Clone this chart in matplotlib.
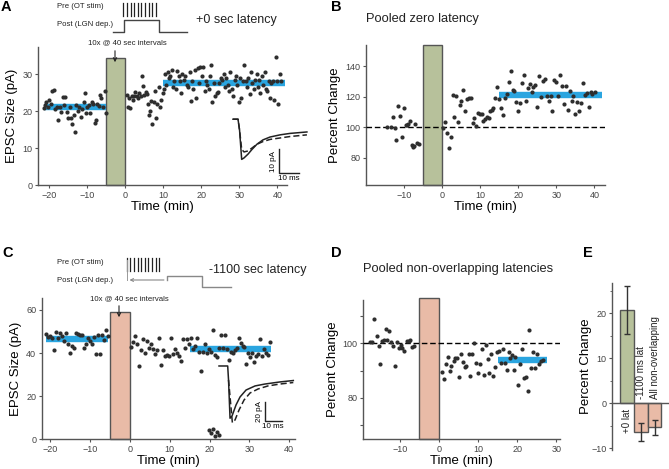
import numpy as np
import matplotlib
matplotlib.use("Agg")
import matplotlib.pyplot as plt

plt.rcParams['font.family'] = ['Liberation Sans', 'DejaVu Sans']

# ---- data ----
# A: EPSC size, +0 latency
a_pre_t = [-21.5, -21.2, -20.8, -20.5, -20.0, -19.6, -19.2, -18.8, -18.5, -18.1, -17.7, -17.3, -16.9,
           -16.5, -16.1, -15.8, -15.4, -15.0, -14.7, -14.3, -14.0, -13.6, -13.2, -12.9, -12.5, -12.1,
           -11.8, -11.4, -11.0, -10.7, -10.3, -10.0, -9.6, -9.2, -8.9, -8.5, -8.1, -7.8, -7.4, -7.0,
           -6.7, -6.3, -5.9, -5.5, -5.2]
a_pre_y = [20.8, 21.5, 22.3, 21.0, 23.0, 22.0, 25.3, 25.6, 20.5, 21.2, 17.5, 21.2, 19.8,
           23.8, 21.5, 23.9, 19.8, 18.2, 21.0, 18.0, 16.5, 19.0, 14.2, 21.5, 20.0, 21.2,
           18.4, 20.5, 22.5, 24.8, 19.5, 21.0, 21.6, 19.5, 22.5, 22.0, 16.8, 17.5, 21.9, 21.3,
           24.3, 23.6, 21.0, 25.5, 19.5]
a_post_t = [0.3, 0.6, 1.0, 1.3, 1.6, 2.0, 2.3, 2.6, 3.0, 3.3, 3.6, 4.0, 4.3, 4.6, 5.0, 5.3, 5.6, 6.0,
            6.2, 6.5, 6.8, 7.1, 7.5, 7.8, 8.1, 8.4, 8.8, 9.1, 9.4, 9.8, 10.1, 10.4, 10.8, 11.1, 11.5,
            11.8, 12.2, 12.5, 12.9, 13.2, 13.6, 14.0, 14.3, 14.7, 15.0, 15.4, 15.7, 16.1, 16.5, 16.9,
            17.2, 17.6, 17.9, 18.3, 18.6, 19.0, 19.3, 19.7, 20.1, 20.4, 20.8, 21.1, 21.5, 21.9, 22.2,
            22.6, 22.9, 23.3, 23.6, 24.0, 24.4, 24.7, 25.1, 25.4, 25.8, 26.1, 26.5, 26.9, 27.2, 27.6,
            28.0, 28.3, 28.7, 29.0, 29.4, 29.8, 30.1, 30.5, 30.9, 31.2, 31.6, 31.9, 32.3, 32.7, 33.0,
            33.4, 33.7, 34.1, 34.5, 34.8, 35.2, 35.5, 35.9, 36.3, 36.6, 37.0, 37.3, 37.7, 38.1, 38.4,
            38.8, 39.1, 39.5, 39.9, 40.2, 40.6, 41.0]
a_post_y = [24.2, 21.0, 23.5, 20.7, 24.0, 23.0, 24.0, 25.2, 24.0, 23.5, 25.0, 24.0, 29.5, 26.8, 24.2,
            25.1, 24.6, 22.0, 19.0, 20.0, 22.8, 16.5, 22.5, 25.5, 18.0, 22.0, 26.5, 21.0, 23.0, 25.0,
            26.0, 30.0, 27.0, 30.5, 29.0, 29.5, 31.0, 26.5, 28.0, 26.0, 30.8, 29.5, 28.0, 25.0, 30.0,
            28.5, 29.5, 27.0, 26.5, 30.5, 22.8, 28.0, 26.0, 31.0, 23.5, 31.5, 27.5, 32.0, 29.5, 32.0,
            25.5, 28.0, 27.0, 26.0, 29.5, 32.3, 22.5, 27.5, 24.0, 25.0, 25.2, 27.5, 29.0, 28.5, 30.0,
            26.5, 29.0, 27.0, 25.5, 30.5, 26.0, 24.0, 28.5, 29.5, 27.0, 22.5, 29.0, 23.5, 28.0, 32.5,
            28.0, 26.5, 29.0, 24.5, 30.5, 27.5, 26.0, 28.5, 30.0, 26.5, 28.5, 25.0, 29.5, 27.0, 30.5,
            26.0, 25.5, 28.0, 23.5, 27.5, 28.0, 23.0, 34.5, 28.0, 22.0, 30.0, 28.0]
a_base = (-21.5, -5.2, 21.0)
a_late = (10.0, 42.0, 27.5)

# B: pooled zero latency
b_t = [-14.5, -13.5, -13.0, -12.5, -12.0, -11.5, -11.0, -10.5, -10.0, -9.5, -9.2, -9.0, -8.5, -8.0,
       -7.7, -7.4, -7.0, -6.5, -6.0,
       0.2, 0.8, 1.3, 1.8, 2.3, 2.8, 3.2, 3.7, 4.2, 4.7, 5.0, 5.5, 6.0, 6.5, 7.0, 7.5, 8.0, 8.5,
       8.9, 9.4, 9.9, 10.4, 10.8, 11.3, 11.7, 12.2, 12.6, 13.1, 13.5, 14.0, 14.5, 15.0, 15.5, 16.0,
       16.5, 17.0, 17.5, 18.0, 18.5, 19.0, 19.5, 20.0, 20.5, 21.0, 21.5, 22.0, 22.5, 23.0, 23.5,
       24.0, 24.5, 25.0, 25.5, 26.0, 26.5, 27.0, 27.5, 28.0, 28.5, 29.0, 29.5, 30.0, 30.5, 31.0,
       31.5, 32.0, 32.5, 33.0, 33.5, 34.0, 34.5, 35.0, 35.5, 36.0, 36.5, 37.0, 37.5, 38.0, 38.5,
       39.0, 39.5, 40.2]
b_y = [100, 100, 107, 99.5, 91.5, 114, 107.5, 93.5, 112.5, 101.5, 101.5, 102.5, 104, 88.5,
       87, 87.5, 102, 89.5, 89,
       99.5, 103.5, 96.5, 86.5, 93.5, 121, 107, 120.5, 103.5, 114.5, 117, 124.5, 110.5, 118.5,
       119.5, 119, 103, 106, 101, 109.5, 108.5, 109, 104, 105.5, 106.5, 106, 110.5, 111.5, 112.5,
       119, 126.5, 118.5, 113, 108, 119, 122, 129.5, 137, 124.5, 124, 116.5, 111, 116, 129,
       134.5, 117, 125.5, 128.5, 123, 126.5, 127.5, 113.5, 133.5, 120, 130.5, 131.5, 120.5, 117,
       120.5, 111, 131, 130, 120.5, 134.5, 127, 115.5, 127, 111.5, 124, 117.5, 120.5, 108.5,
       116.5, 111, 116, 129, 121.5, 122.5, 113.5, 123.5, 122, 123.5]
b_late = (15.0, 42.0, 121.0)

# C: EPSC size, -1100 latency
c_pre_t = [-21.0, -20.5, -20.0, -19.5, -19.0, -18.5, -18.0, -17.5, -17.0, -16.5, -16.0, -15.5, -15.0,
           -14.5, -14.0, -13.5, -13.0, -12.5, -12.0, -11.5, -11.0, -10.5, -10.0, -9.5, -9.0, -8.5,
           -8.0, -7.5, -7.0, -6.5, -6.0, -5.5]
c_pre_y = [49, 47.5, 48, 47, 41.5, 50, 47, 49.5, 48, 45.5, 49.5, 44, 40, 43.5, 42.5, 49.5, 49, 48.5,
           48.5, 42.5, 44, 47, 45.5, 44, 47.5, 39.5, 48.5, 39.5, 48.5, 46, 50.5, 48]
c_post_t = [0.3, 0.8, 1.3, 1.8, 2.3, 2.8, 3.3, 3.8, 4.3, 4.8, 5.3, 5.8, 6.3, 6.8, 7.3, 7.8, 8.3, 8.8,
            9.3, 9.8, 10.3, 10.8, 11.3, 11.8, 12.3, 12.8, 13.3, 13.8, 14.3, 14.8, 15.3, 15.8, 16.3,
            16.8, 17.3, 17.8, 18.3, 18.8, 19.3, 19.8, 20.3, 20.8, 21.3, 21.8, 22.3, 22.8, 23.3, 23.8,
            24.3, 24.8, 25.3, 25.8, 26.3, 26.8, 27.3, 27.8, 28.3, 28.8, 29.3, 29.8, 30.3, 30.8, 31.3,
            31.8, 32.3, 32.8, 33.3, 33.8, 34.3, 34.8, 35.3,
            19.8, 20.4, 21.0, 21.4, 21.9, 22.3]
c_post_y = [43, 45, 48, 44, 34, 41.5, 46.5, 40, 45.5, 42.5, 44, 42, 39.5, 41.5, 47, 34.5, 41.5, 38.5,
            39, 38.5, 47, 39.5, 42, 40, 38.5, 36.5, 46.5, 42.5, 46.5, 44, 47, 42, 43.5, 47, 40.5,
            31.5, 40.5, 44, 40, 42, 40.5, 50.5, 39, 38, 42.5, 48.5, 42.5, 48.5, 42, 37, 40.5, 40,
            41.5, 42.5, 47, 44.5, 43.5, 43, 35, 40, 38, 40, 36, 38.5, 39.5, 46.5, 38.5, 42, 40, 39,
            45,
            4.3, 2.8, 4.6, 1.6, 3.3, 2.0]
c_base = (-21.0, -5.5, 46.5)
c_late = (15.0, 35.5, 42.0)

# D: pooled non-overlapping latencies
d_t = [-17.6, -17.1, -16.5, -15.9, -15.4, -15.0, -14.6, -14.1, -13.5, -13.2, -12.7, -12.2, -11.7,
       -11.1, -10.7, -10.3, -9.7, -9.3, -8.9, -8.2, -7.7, -7.3, -6.8, -6.3,
       0.8, 1.4, 1.8, 2.2, 2.8, 3.2, 3.8, 4.2, 4.7, 5.1, 5.6, 6.2, 6.6, 7.0, 7.6, 8.0, 8.5, 9.0,
       9.5, 10.0, 10.5, 11.0, 11.4, 11.9, 12.4, 12.9, 13.4, 13.9, 14.4, 14.9, 15.3, 15.8, 16.3,
       16.8, 17.3, 17.8, 18.2, 18.6, 19.1, 19.5, 20.1, 20.7, 21.2, 21.7, 22.2, 22.7, 23.1, 23.5,
       24.1, 24.6, 25.1, 25.6, 26.1, 26.5]
d_y = [100.6, 100.6, 108.9, 102.8, 99.1, 92.4, 100.9, 101.2, 105.5, 101.2, 104.7, 100.6, 99.0,
       91.8, 100.6, 98.5, 99.4, 98.2, 97.3, 100.9, 100.9, 101.2, 98.8, 99.0,
       89.3, 86.9, 92.6, 95.1, 89.8, 91.8, 93.5, 94.7, 94.7, 87.7, 96.1, 93.0, 91.4, 91.7, 96.0,
       88.0, 96.0, 100.2, 92.9, 89.2, 92.6, 98.0, 88.4, 99.4, 94.1, 89.0, 96.1, 88.1, 91.2, 96.7,
       97.3, 92.9, 97.9, 92.9, 90.2, 96.9, 94.7, 95.7, 90.2, 94.9, 84.8, 92.3, 97.8, 87.1, 87.5,
       82.5, 104.9, 90.8, 96.9, 90.8, 96.1, 92.6, 93.5, 94.0]
d_late = (15.0, 27.5, 94.0)

# E: summary
e_labels = ['+0 lat', '-1100 ms lat', 'All non-overlapping']
e_mean = [20.6, -6.4, -5.4]
e_err = [5.3, 2.1, 1.75]

# inset traces (ms, pA)
ia_t = [0, 2.6, 3.4, 4.5, 5.7, 7.8, 9.8, 12.4, 15.5, 19.2, 24.4, 29.5, 38.3]
ia_pre = [0, 0, -4.5, -16.7, -16.1, -14.5, -12.6, -10.4, -8.6, -7.4, -6.5, -5.9, -5.3]
ia_post = [0, 0, -4.5, -12.5, -13.6, -13.2, -12.0, -10.4, -9.3, -8.4, -7.8, -7.2, -6.5]
ic_t = [0, 5.2, 5.7, 6.6, 7.8, 10.2, 12.6, 16.2, 21.6, 27.5, 36.5, 44.5]
ic_pre = [0, 0, -14.7, -55, -52.6, -41, -32.6, -25.3, -21, -19, -16.8, -15.3]
ic_post_t = [5.7, 8.0, 9.6, 12.0, 15.0, 18.6, 23.4, 29.3, 36.5, 44.5]
ic_post = [-14.7, -59.7, -56.8, -46.3, -35.8, -28.4, -24.2, -21.0, -19.0, -17.4]

GREEN = '#b7c19b'
SALMON = '#e9bba7'
BLUE = '#2aa5e0'
DOT = '#2e2e2e'
SPINE = '#555555'

W, H = 669, 469
fig = plt.figure(figsize=(W / 100, H / 100), dpi=100)


def px_axes(x0, x1, y0, y1):
    # rectangle given in pixel coords from top-left
    return fig.add_axes([x0 / W, 1 - y1 / H, (x1 - x0) / W, (y1 - y0) / H])


def style(ax):
    for s in ['top', 'right']:
        ax.spines[s].set_visible(False)
    for s in ['left', 'bottom']:
        ax.spines[s].set_color(SPINE)
        ax.spines[s].set_linewidth(1.0)
    ax.tick_params(colors=SPINE, labelsize=6.5, length=2.5, width=0.8, pad=1.5, labelcolor='#444444')


def time_panel(ax, xs, ys, bar_top, bar_col, blues, xlim, ylim):
    ax.bar(-2.5, bar_top - ylim[0], bottom=ylim[0], width=5, color=bar_col,
           edgecolor='#555555', linewidth=1.0, zorder=2, clip_on=False)
    for x0, x1, y in blues:
        ax.plot([x0, x1], [y, y], color=BLUE, lw=4.6, solid_capstyle='butt', zorder=3)
    ax.scatter(xs, ys, s=9, color=DOT, zorder=4, linewidths=0)
    ax.set_xlim(*xlim)
    ax.set_ylim(*ylim)
    ax.set_xlabel('Time (min)', fontsize=9.5, labelpad=1)
    style(ax)


# A
axA = px_axes(38, 287, 47, 185)
time_panel(axA, a_pre_t + a_post_t, a_pre_y + a_post_y, 34.2, GREEN, [a_base, a_late], (-23, 42.5), (0, 37.3))
axA.set_yticks([0, 10, 20, 30])
axA.set_xticks([-20, -10, 0, 10, 20, 30, 40])
axA.set_ylabel('EPSC Size (pA)', fontsize=9.5, labelpad=3)

# B
axB = px_axes(366, 605, 45, 185.3)
time_panel(axB, b_t, b_y, 154, GREEN, [b_late], (-20, 42.8), (62, 154))
axB.axhline(100, color='k', lw=1, dashes=(4, 2), zorder=3)
axB.set_yticks([80, 100, 120, 140])
axB.set_xticks([-10, 0, 10, 20, 30, 40])
axB.set_ylabel('Percent Change', fontsize=9.5, labelpad=3)

# C
axC = px_axes(41.7, 295, 298.3, 439.3)
time_panel(axC, c_pre_t + c_post_t, c_pre_y + c_post_y, 59, SALMON, [c_base, c_late], (-22.2, 41.5), (0, 65.4))
axC.set_yticks([0, 20, 40, 60])
axC.set_xticks([-20, -10, 0, 10, 20, 30, 40])
axC.set_ylabel('EPSC Size (pA)', fontsize=9.5, labelpad=3)

# D
axD = px_axes(363.3, 560, 300, 439)
time_panel(axD, d_t, d_y, 116.8, SALMON, [d_late], (-19.3, 30.9), (64.8, 116))
axD.axhline(100, color='k', lw=1, dashes=(4, 2), zorder=3)
axD.set_yticks([70, 80, 90, 100, 110])
axD.set_yticklabels(['', '80', '', '100', ''])
axD.set_xticks([-10, 0, 10, 20, 30])
axD.set_ylabel('Percent Change', fontsize=9.5, labelpad=3)

# E
axE = px_axes(612.3, 668, 283.3, 450)
xe = np.arange(len(e_mean))
axE.bar(xe, e_mean, width=1.0, color=[GREEN, SALMON, SALMON], edgecolor='#555555', linewidth=1.0, zorder=2)
axE.errorbar(xe, e_mean, yerr=e_err, fmt='none', ecolor='#333333', elinewidth=1, capsize=2.5, zorder=3)
axE.set_xlim(-1.1, 2.98)
axE.set_ylim(-10.4, 26.6)
style(axE)
axE.spines['bottom'].set_position(('data', 0))
axE.set_xticks([])
axE.set_yticks([-10, 0, 10, 20])
axE.set_yticks([-5, 5, 15, 25], minor=True)
axE.tick_params(which='minor', length=1.5, colors=SPINE)
axE.set_ylabel('Percent Change', fontsize=9.5, labelpad=-0.5)
axE.text(xe[0], -1.2, e_labels[0], rotation=90, ha='center', va='top', fontsize=7, color='#222222')
axE.text(xe[1], 1.0, e_labels[1], rotation=90, ha='center', va='bottom', fontsize=7, color='#222222')
axE.text(xe[2], 1.0, e_labels[2], rotation=90, ha='center', va='bottom', fontsize=7, color='#222222')


# insets with traces and scale bars
def trace_inset(box, xlim, ylim, t, pre, tpost, post, sb, sb_len, sb_lab):
    ax = px_axes(*box)
    ax.plot(t, pre, color='#222222', lw=1.1)
    ax.plot(tpost, post, color='#222222', lw=1.1, dashes=(4, 2))
    sx, sy = sb
    ax.plot([sx, sx, sx + 10], [sy + sb_len, sy, sy], color='#222222', lw=1.0)
    ax.text(sx - 1.2, sy + sb_len / 2, sb_lab, rotation=90, ha='right', va='center', fontsize=5.8)
    ax.text(sx + 5, sy - (ylim[1] - ylim[0]) * 0.03, '10 ms', ha='center', va='top', fontsize=5.8)
    ax.set_xlim(*xlim)
    ax.set_ylim(*ylim)
    ax.axis('off')


trace_inset((230, 310, 112, 182), (-1.55, 39.9), (-26.1, 3.0), ia_t, ia_pre, ia_t, ia_post,
            (24, -22.5), 10, '10 pA')
trace_inset((215, 300, 360, 430), (-2.4, 48.5), (-67.4, 6.3), ic_t, ic_pre, ic_post_t, ic_post,
            (27.5, -57.6), 20, '20 pA')

# overlay for schematic headers, titles and panel letters
ov = fig.add_axes([0, 0, 1, 1], facecolor='none')
ov.set_xlim(0, W)
ov.set_ylim(H, 0)
ov.axis('off')

for lab, x, y in [('A', 1, 7), ('B', 331, 7), ('C', 2, 253), ('D', 331, 253), ('E', 583, 253)]:
    ov.text(x, y, lab, fontsize=10.5, fontweight='bold', va='center', ha='left')

ov.text(366, 19, 'Pooled zero latency', fontsize=9.3, va='center', ha='left', color='#222222')
ov.text(363, 269, 'Pooled non-overlapping latencies', fontsize=9.3, va='center', ha='left', color='#222222')

n_pulses = 10


def header(y0, x_pulse0, x_pulse1, pre_y, post_y, step, col, lat_text, lat_xy):
    ov.text(57, pre_y, 'Pre (OT stim)', fontsize=5.6, va='center', ha='left', color='#222222')
    ov.text(57, post_y, 'Post (LGN dep.)', fontsize=5.6, va='center', ha='left', color='#222222')
    for xp in np.linspace(x_pulse0, x_pulse1, n_pulses):
        ov.plot([xp, xp], [y0, y0 + 13], color='#222222', lw=0.9)
    xs, ys = step
    ov.plot(xs, ys, color=col, lw=1.0)
    ov.text(lat_xy[0], lat_xy[1], lat_text, fontsize=9, va='center', ha='left', color='#222222')


header(2.7, 123.3, 156, 7, 24, ([113, 124, 124, 159, 159, 187], [32, 32, 20, 20, 32, 32]),
       '#444444', '+0 sec latency', (196, 20))
header(258, 126.7, 159.3, 263, 281, ([166.7, 166.7, 202.3, 202.3, 231], [280, 276, 276, 286.7, 286.7]),
       '#888888', '-1100 sec latency', (209, 270))
ov.plot([126.7, 126.7], [260, 280], color='#999999', lw=0.7)
ov.annotate('', xy=(126.7, 280), xytext=(166.7, 280),
            arrowprops=dict(arrowstyle='->', color='#888888', lw=0.8, mutation_scale=5))

# "10x @ 40 sec intervals" with arrows
ov.text(127, 43, '10x @ 40 sec intervals', fontsize=5.6, ha='center', va='center', color='#222222')
ov.annotate('', xy=(115, 65), xytext=(115, 48),
            arrowprops=dict(arrowstyle='->', color='#222222', lw=0.8, mutation_scale=6))
ov.text(129, 298.5, '10x @ 40 sec intervals', fontsize=5.6, ha='center', va='center', color='#222222')
ov.annotate('', xy=(119, 320), xytext=(119, 303),
            arrowprops=dict(arrowstyle='->', color='#222222', lw=0.8, mutation_scale=6))

fig.savefig('out.png', dpi=100)
